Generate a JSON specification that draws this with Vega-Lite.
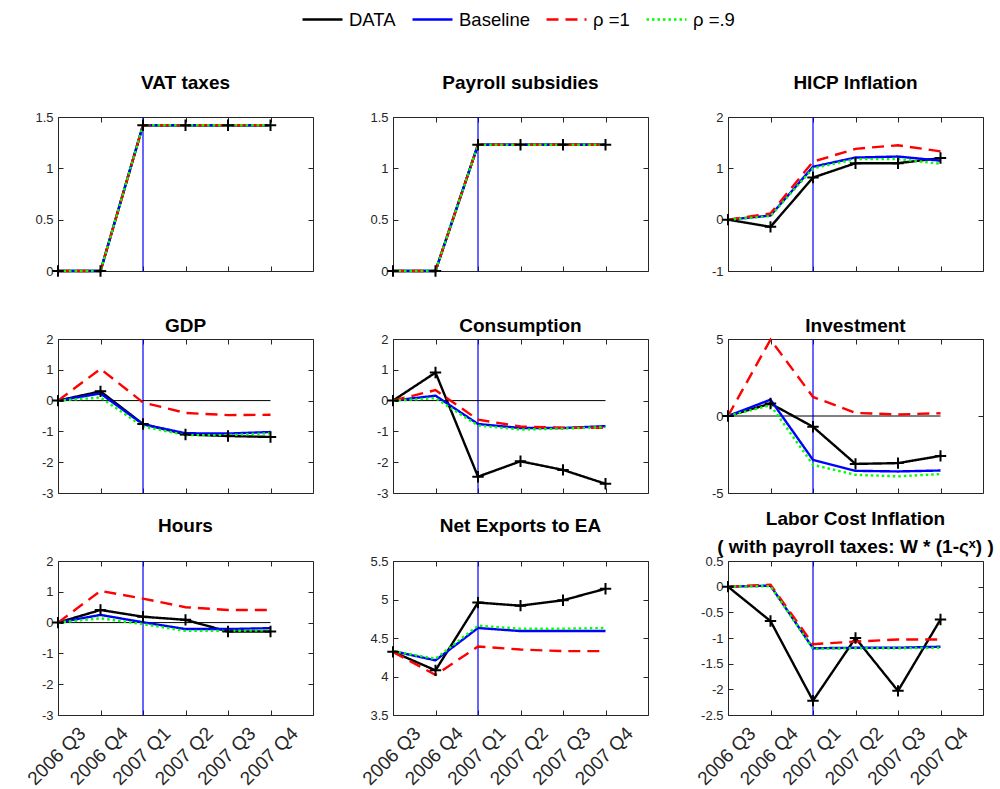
{
"$schema": "https://vega.github.io/schema/vega-lite/v6.json",
"background": "white",
"padding": {"left": 23, "top": -2, "right": 0, "bottom": 0},
"columns": 3,
"spacing": {"row": 68, "column": 80},
"bounds": "flush",
"config": {
  "view": {"stroke": "#262626", "strokeWidth": 1},
  "axis": {"domain": false, "grid": false, "ticks": true, "tickSize": -5, "tickColor": "#262626", "labelColor": "#262626", "labelFont": "Liberation Sans", "labelFontSize": 13, "labelPadding": 10},
  "title": {"font": "Liberation Sans", "fontSize": 19, "fontWeight": "bold", "color": "#000000", "anchor": "middle"}
},
"datasets": {"d": [
{"p":"VAT","s":"DATA","q":1,"v":0},{"p":"VAT","s":"DATA","q":2,"v":0},{"p":"VAT","s":"DATA","q":3,"v":1.42},{"p":"VAT","s":"DATA","q":4,"v":1.42},{"p":"VAT","s":"DATA","q":5,"v":1.42},{"p":"VAT","s":"DATA","q":6,"v":1.42},
{"p":"VAT","s":"Baseline","q":1,"v":0},{"p":"VAT","s":"Baseline","q":2,"v":0},{"p":"VAT","s":"Baseline","q":3,"v":1.42},{"p":"VAT","s":"Baseline","q":4,"v":1.42},{"p":"VAT","s":"Baseline","q":5,"v":1.42},{"p":"VAT","s":"Baseline","q":6,"v":1.42},
{"p":"VAT","s":"ρ =1","q":1,"v":0},{"p":"VAT","s":"ρ =1","q":2,"v":0},{"p":"VAT","s":"ρ =1","q":3,"v":1.42},{"p":"VAT","s":"ρ =1","q":4,"v":1.42},{"p":"VAT","s":"ρ =1","q":5,"v":1.42},{"p":"VAT","s":"ρ =1","q":6,"v":1.42},
{"p":"VAT","s":"ρ =.9","q":1,"v":0},{"p":"VAT","s":"ρ =.9","q":2,"v":0},{"p":"VAT","s":"ρ =.9","q":3,"v":1.42},{"p":"VAT","s":"ρ =.9","q":4,"v":1.42},{"p":"VAT","s":"ρ =.9","q":5,"v":1.42},{"p":"VAT","s":"ρ =.9","q":6,"v":1.42},
{"p":"PAY","s":"DATA","q":1,"v":0},{"p":"PAY","s":"DATA","q":2,"v":0},{"p":"PAY","s":"DATA","q":3,"v":1.23},{"p":"PAY","s":"DATA","q":4,"v":1.23},{"p":"PAY","s":"DATA","q":5,"v":1.23},{"p":"PAY","s":"DATA","q":6,"v":1.23},
{"p":"PAY","s":"Baseline","q":1,"v":0},{"p":"PAY","s":"Baseline","q":2,"v":0},{"p":"PAY","s":"Baseline","q":3,"v":1.23},{"p":"PAY","s":"Baseline","q":4,"v":1.23},{"p":"PAY","s":"Baseline","q":5,"v":1.23},{"p":"PAY","s":"Baseline","q":6,"v":1.23},
{"p":"PAY","s":"ρ =1","q":1,"v":0},{"p":"PAY","s":"ρ =1","q":2,"v":0},{"p":"PAY","s":"ρ =1","q":3,"v":1.23},{"p":"PAY","s":"ρ =1","q":4,"v":1.23},{"p":"PAY","s":"ρ =1","q":5,"v":1.23},{"p":"PAY","s":"ρ =1","q":6,"v":1.23},
{"p":"PAY","s":"ρ =.9","q":1,"v":0},{"p":"PAY","s":"ρ =.9","q":2,"v":0},{"p":"PAY","s":"ρ =.9","q":3,"v":1.23},{"p":"PAY","s":"ρ =.9","q":4,"v":1.23},{"p":"PAY","s":"ρ =.9","q":5,"v":1.23},{"p":"PAY","s":"ρ =.9","q":6,"v":1.23},
{"p":"HICP","s":"DATA","q":1,"v":0},{"p":"HICP","s":"DATA","q":2,"v":-0.14},{"p":"HICP","s":"DATA","q":3,"v":0.82},{"p":"HICP","s":"DATA","q":4,"v":1.1},{"p":"HICP","s":"DATA","q":5,"v":1.1},{"p":"HICP","s":"DATA","q":6,"v":1.2},
{"p":"HICP","s":"Baseline","q":1,"v":0},{"p":"HICP","s":"Baseline","q":2,"v":0.08},{"p":"HICP","s":"Baseline","q":3,"v":1.03},{"p":"HICP","s":"Baseline","q":4,"v":1.21},{"p":"HICP","s":"Baseline","q":5,"v":1.23},{"p":"HICP","s":"Baseline","q":6,"v":1.15},
{"p":"HICP","s":"ρ =1","q":1,"v":0},{"p":"HICP","s":"ρ =1","q":2,"v":0.12},{"p":"HICP","s":"ρ =1","q":3,"v":1.13},{"p":"HICP","s":"ρ =1","q":4,"v":1.38},{"p":"HICP","s":"ρ =1","q":5,"v":1.45},{"p":"HICP","s":"ρ =1","q":6,"v":1.33},
{"p":"HICP","s":"ρ =.9","q":1,"v":0},{"p":"HICP","s":"ρ =.9","q":2,"v":0.07},{"p":"HICP","s":"ρ =.9","q":3,"v":1.0},{"p":"HICP","s":"ρ =.9","q":4,"v":1.18},{"p":"HICP","s":"ρ =.9","q":5,"v":1.18},{"p":"HICP","s":"ρ =.9","q":6,"v":1.09},
{"p":"GDP","s":"DATA","q":1,"v":0},{"p":"GDP","s":"DATA","q":2,"v":0.3},{"p":"GDP","s":"DATA","q":3,"v":-0.76},{"p":"GDP","s":"DATA","q":4,"v":-1.1},{"p":"GDP","s":"DATA","q":5,"v":-1.15},{"p":"GDP","s":"DATA","q":6,"v":-1.18},
{"p":"GDP","s":"Baseline","q":1,"v":0},{"p":"GDP","s":"Baseline","q":2,"v":0.23},{"p":"GDP","s":"Baseline","q":3,"v":-0.77},{"p":"GDP","s":"Baseline","q":4,"v":-1.06},{"p":"GDP","s":"Baseline","q":5,"v":-1.07},{"p":"GDP","s":"Baseline","q":6,"v":-1.02},
{"p":"GDP","s":"ρ =1","q":1,"v":0},{"p":"GDP","s":"ρ =1","q":2,"v":1.03},{"p":"GDP","s":"ρ =1","q":3,"v":-0.06},{"p":"GDP","s":"ρ =1","q":4,"v":-0.4},{"p":"GDP","s":"ρ =1","q":5,"v":-0.47},{"p":"GDP","s":"ρ =1","q":6,"v":-0.46},
{"p":"GDP","s":"ρ =.9","q":1,"v":0},{"p":"GDP","s":"ρ =.9","q":2,"v":0.1},{"p":"GDP","s":"ρ =.9","q":3,"v":-0.84},{"p":"GDP","s":"ρ =.9","q":4,"v":-1.12},{"p":"GDP","s":"ρ =.9","q":5,"v":-1.12},{"p":"GDP","s":"ρ =.9","q":6,"v":-1.06},
{"p":"CONS","s":"DATA","q":1,"v":0},{"p":"CONS","s":"DATA","q":2,"v":0.91},{"p":"CONS","s":"DATA","q":3,"v":-2.47},{"p":"CONS","s":"DATA","q":4,"v":-1.97},{"p":"CONS","s":"DATA","q":5,"v":-2.25},{"p":"CONS","s":"DATA","q":6,"v":-2.7},
{"p":"CONS","s":"Baseline","q":1,"v":0},{"p":"CONS","s":"Baseline","q":2,"v":0.16},{"p":"CONS","s":"Baseline","q":3,"v":-0.76},{"p":"CONS","s":"Baseline","q":4,"v":-0.89},{"p":"CONS","s":"Baseline","q":5,"v":-0.89},{"p":"CONS","s":"Baseline","q":6,"v":-0.83},
{"p":"CONS","s":"ρ =1","q":1,"v":0},{"p":"CONS","s":"ρ =1","q":2,"v":0.34},{"p":"CONS","s":"ρ =1","q":3,"v":-0.62},{"p":"CONS","s":"ρ =1","q":4,"v":-0.84},{"p":"CONS","s":"ρ =1","q":5,"v":-0.88},{"p":"CONS","s":"ρ =1","q":6,"v":-0.88},
{"p":"CONS","s":"ρ =.9","q":1,"v":0},{"p":"CONS","s":"ρ =.9","q":2,"v":0.08},{"p":"CONS","s":"ρ =.9","q":3,"v":-0.81},{"p":"CONS","s":"ρ =.9","q":4,"v":-0.94},{"p":"CONS","s":"ρ =.9","q":5,"v":-0.91},{"p":"CONS","s":"ρ =.9","q":6,"v":-0.86},
{"p":"INV","s":"DATA","q":1,"v":0},{"p":"INV","s":"DATA","q":2,"v":0.81},{"p":"INV","s":"DATA","q":3,"v":-0.7},{"p":"INV","s":"DATA","q":4,"v":-3.11},{"p":"INV","s":"DATA","q":5,"v":-3.06},{"p":"INV","s":"DATA","q":6,"v":-2.59},
{"p":"INV","s":"Baseline","q":1,"v":0},{"p":"INV","s":"Baseline","q":2,"v":1.06},{"p":"INV","s":"Baseline","q":3,"v":-2.85},{"p":"INV","s":"Baseline","q":4,"v":-3.56},{"p":"INV","s":"Baseline","q":5,"v":-3.6},{"p":"INV","s":"Baseline","q":6,"v":-3.54},
{"p":"INV","s":"ρ =1","q":1,"v":0},{"p":"INV","s":"ρ =1","q":2,"v":4.96},{"p":"INV","s":"ρ =1","q":3,"v":1.24},{"p":"INV","s":"ρ =1","q":4,"v":0.2},{"p":"INV","s":"ρ =1","q":5,"v":0.1},{"p":"INV","s":"ρ =1","q":6,"v":0.18},
{"p":"INV","s":"ρ =.9","q":1,"v":0},{"p":"INV","s":"ρ =.9","q":2,"v":0.7},{"p":"INV","s":"ρ =.9","q":3,"v":-3.17},{"p":"INV","s":"ρ =.9","q":4,"v":-3.82},{"p":"INV","s":"ρ =.9","q":5,"v":-3.92},{"p":"INV","s":"ρ =.9","q":6,"v":-3.77},
{"p":"HRS","s":"DATA","q":1,"v":0},{"p":"HRS","s":"DATA","q":2,"v":0.41},{"p":"HRS","s":"DATA","q":3,"v":0.19},{"p":"HRS","s":"DATA","q":4,"v":0.09},{"p":"HRS","s":"DATA","q":5,"v":-0.29},{"p":"HRS","s":"DATA","q":6,"v":-0.29},
{"p":"HRS","s":"Baseline","q":1,"v":0},{"p":"HRS","s":"Baseline","q":2,"v":0.25},{"p":"HRS","s":"Baseline","q":3,"v":0.01},{"p":"HRS","s":"Baseline","q":4,"v":-0.21},{"p":"HRS","s":"Baseline","q":5,"v":-0.21},{"p":"HRS","s":"Baseline","q":6,"v":-0.18},
{"p":"HRS","s":"ρ =1","q":1,"v":0},{"p":"HRS","s":"ρ =1","q":2,"v":1.03},{"p":"HRS","s":"ρ =1","q":3,"v":0.78},{"p":"HRS","s":"ρ =1","q":4,"v":0.5},{"p":"HRS","s":"ρ =1","q":5,"v":0.41},{"p":"HRS","s":"ρ =1","q":6,"v":0.41},
{"p":"HRS","s":"ρ =.9","q":1,"v":0},{"p":"HRS","s":"ρ =.9","q":2,"v":0.14},{"p":"HRS","s":"ρ =.9","q":3,"v":-0.05},{"p":"HRS","s":"ρ =.9","q":4,"v":-0.27},{"p":"HRS","s":"ρ =.9","q":5,"v":-0.27},{"p":"HRS","s":"ρ =.9","q":6,"v":-0.25},
{"p":"NX","s":"DATA","q":1,"v":4.32},{"p":"NX","s":"DATA","q":2,"v":4.08},{"p":"NX","s":"DATA","q":3,"v":4.96},{"p":"NX","s":"DATA","q":4,"v":4.92},{"p":"NX","s":"DATA","q":5,"v":4.99},{"p":"NX","s":"DATA","q":6,"v":5.14},
{"p":"NX","s":"Baseline","q":1,"v":4.33},{"p":"NX","s":"Baseline","q":2,"v":4.21},{"p":"NX","s":"Baseline","q":3,"v":4.63},{"p":"NX","s":"Baseline","q":4,"v":4.59},{"p":"NX","s":"Baseline","q":5,"v":4.59},{"p":"NX","s":"Baseline","q":6,"v":4.59},
{"p":"NX","s":"ρ =1","q":1,"v":4.32},{"p":"NX","s":"ρ =1","q":2,"v":4.02},{"p":"NX","s":"ρ =1","q":3,"v":4.39},{"p":"NX","s":"ρ =1","q":4,"v":4.35},{"p":"NX","s":"ρ =1","q":5,"v":4.33},{"p":"NX","s":"ρ =1","q":6,"v":4.33},
{"p":"NX","s":"ρ =.9","q":1,"v":4.33},{"p":"NX","s":"ρ =.9","q":2,"v":4.23},{"p":"NX","s":"ρ =.9","q":3,"v":4.66},{"p":"NX","s":"ρ =.9","q":4,"v":4.62},{"p":"NX","s":"ρ =.9","q":5,"v":4.62},{"p":"NX","s":"ρ =.9","q":6,"v":4.63},
{"p":"LC","s":"DATA","q":1,"v":0},{"p":"LC","s":"DATA","q":2,"v":-0.67},{"p":"LC","s":"DATA","q":3,"v":-2.22},{"p":"LC","s":"DATA","q":4,"v":-1.0},{"p":"LC","s":"DATA","q":5,"v":-2.03},{"p":"LC","s":"DATA","q":6,"v":-0.64},
{"p":"LC","s":"Baseline","q":1,"v":0},{"p":"LC","s":"Baseline","q":2,"v":0.02},{"p":"LC","s":"Baseline","q":3,"v":-1.2},{"p":"LC","s":"Baseline","q":4,"v":-1.19},{"p":"LC","s":"Baseline","q":5,"v":-1.19},{"p":"LC","s":"Baseline","q":6,"v":-1.17},
{"p":"LC","s":"ρ =1","q":1,"v":0},{"p":"LC","s":"ρ =1","q":2,"v":0.04},{"p":"LC","s":"ρ =1","q":3,"v":-1.12},{"p":"LC","s":"ρ =1","q":4,"v":-1.07},{"p":"LC","s":"ρ =1","q":5,"v":-1.03},{"p":"LC","s":"ρ =1","q":6,"v":-1.03},
{"p":"LC","s":"ρ =.9","q":1,"v":0},{"p":"LC","s":"ρ =.9","q":2,"v":0.01},{"p":"LC","s":"ρ =.9","q":3,"v":-1.21},{"p":"LC","s":"ρ =.9","q":4,"v":-1.2},{"p":"LC","s":"ρ =.9","q":5,"v":-1.2},{"p":"LC","s":"ρ =.9","q":6,"v":-1.19}
]},
"concat": [
{"width": 255, "height": 154, "title": {"text": "VAT taxes", "offset": 18},
 "resolve": {"axis": {"x": "independent", "y": "independent"}},
 "layer": [
  {"data": {"values": [{}]}, "mark": {"type": "rule", "color": "#0000ff", "strokeWidth": 1.2},
   "encoding": {"x": {"datum": 3, "type": "quantitative", "scale": {"domain": [1, 7], "nice": false, "zero": false}, "axis": {"orient": "top", "values": [1,2,3,4,5,6], "labels": false, "title": null}}}},
  {"data": {"name": "d"}, "transform": [{"filter": "datum.p=='VAT'"}], "mark": {"type": "line", "strokeWidth": 2.4},
   "encoding": {
    "x": {"field": "q", "type": "quantitative", "axis": {"values": [1,2,3,4,5,6], "labels": false, "title": null}},
    "y": {"field": "v", "type": "quantitative", "scale": {"domain": [0, 1.5], "nice": false, "zero": false}, "axis": {"values": [0,0.5,1,1.5], "labelExpr": "''+datum.value", "title": null}},
    "color": {"field": "s", "type": "nominal", "scale": {"domain": ["DATA","Baseline","ρ =1","ρ =.9"], "range": ["#000000","#0000ff","#ff0000","#00ff00"]}, "legend": {"orient":"none","legendX":243,"legendY":-119,"direction":"horizontal","columns":4,"gridAlign":"none","title":null,"symbolType":"stroke","symbolSize":1600,"symbolStrokeWidth":2.5,"labelFont":"Liberation Sans","labelFontSize":18.5,"labelColor":"#000000","columnPadding":11,"labelOffset":5}},
    "strokeDash": {"field": "s", "type": "nominal", "scale": {"domain": ["DATA","Baseline","ρ =1","ρ =.9"], "range": [[1,0],[1,0],[12,7],[2.5,3]]}, "legend": {"orient":"none","legendX":243,"legendY":-119,"direction":"horizontal","columns":4,"gridAlign":"none","title":null,"symbolType":"stroke","symbolSize":1600,"symbolStrokeWidth":2.5,"labelFont":"Liberation Sans","labelFontSize":18.5,"labelColor":"#000000","columnPadding":11,"labelOffset":5}}}},
  {"data": {"name": "d"}, "transform": [{"filter": "datum.p=='VAT' && datum.s=='DATA'"}], "mark": {"type": "point", "shape": "M-1,0H1M0,-1V1", "size": 130, "strokeWidth": 2, "color": "#000000", "filled": false, "opacity": 1},
   "encoding": {"x": {"field": "q", "type": "quantitative", "axis": null}, "y": {"field": "v", "type": "quantitative", "axis": {"orient": "right", "values": [0,0.5,1,1.5], "labels": false, "title": null}}}}
 ]},
{"width": 255, "height": 154, "title": {"text": "Payroll subsidies", "offset": 18},
 "resolve": {"axis": {"x": "independent", "y": "independent"}},
 "layer": [
  {"data": {"values": [{}]}, "mark": {"type": "rule", "color": "#0000ff", "strokeWidth": 1.2},
   "encoding": {"x": {"datum": 3, "type": "quantitative", "scale": {"domain": [1, 7], "nice": false, "zero": false}, "axis": {"orient": "top", "values": [1,2,3,4,5,6], "labels": false, "title": null}}}},
  {"data": {"name": "d"}, "transform": [{"filter": "datum.p=='PAY'"}], "mark": {"type": "line", "strokeWidth": 2.4},
   "encoding": {
    "x": {"field": "q", "type": "quantitative", "axis": {"values": [1,2,3,4,5,6], "labels": false, "title": null}},
    "y": {"field": "v", "type": "quantitative", "scale": {"domain": [0, 1.5], "nice": false, "zero": false}, "axis": {"values": [0,0.5,1,1.5], "labelExpr": "''+datum.value", "title": null}},
    "color": {"field": "s", "type": "nominal", "scale": {"domain": ["DATA","Baseline","ρ =1","ρ =.9"], "range": ["#000000","#0000ff","#ff0000","#00ff00"]}, "legend": {"orient":"none","legendX":243,"legendY":-119,"direction":"horizontal","columns":4,"gridAlign":"none","title":null,"symbolType":"stroke","symbolSize":1600,"symbolStrokeWidth":2.5,"labelFont":"Liberation Sans","labelFontSize":18.5,"labelColor":"#000000","columnPadding":11,"labelOffset":5}},
    "strokeDash": {"field": "s", "type": "nominal", "scale": {"domain": ["DATA","Baseline","ρ =1","ρ =.9"], "range": [[1,0],[1,0],[12,7],[2.5,3]]}, "legend": {"orient":"none","legendX":243,"legendY":-119,"direction":"horizontal","columns":4,"gridAlign":"none","title":null,"symbolType":"stroke","symbolSize":1600,"symbolStrokeWidth":2.5,"labelFont":"Liberation Sans","labelFontSize":18.5,"labelColor":"#000000","columnPadding":11,"labelOffset":5}}}},
  {"data": {"name": "d"}, "transform": [{"filter": "datum.p=='PAY' && datum.s=='DATA'"}], "mark": {"type": "point", "shape": "M-1,0H1M0,-1V1", "size": 130, "strokeWidth": 2, "color": "#000000", "filled": false, "opacity": 1},
   "encoding": {"x": {"field": "q", "type": "quantitative", "axis": null}, "y": {"field": "v", "type": "quantitative", "axis": {"orient": "right", "values": [0,0.5,1,1.5], "labels": false, "title": null}}}}
 ]},
{"width": 255, "height": 154, "title": {"text": "HICP Inflation", "offset": 18},
 "resolve": {"axis": {"x": "independent", "y": "independent"}},
 "layer": [
  {"data": {"values": [{}]}, "mark": {"type": "rule", "color": "#0000ff", "strokeWidth": 1.2},
   "encoding": {"x": {"datum": 3, "type": "quantitative", "scale": {"domain": [1, 7], "nice": false, "zero": false}, "axis": {"orient": "top", "values": [1,2,3,4,5,6], "labels": false, "title": null}}}},
  {"data": {"name": "d"}, "transform": [{"filter": "datum.p=='HICP'"}], "mark": {"type": "line", "strokeWidth": 2.4},
   "encoding": {
    "x": {"field": "q", "type": "quantitative", "axis": {"values": [1,2,3,4,5,6], "labels": false, "title": null}},
    "y": {"field": "v", "type": "quantitative", "scale": {"domain": [-1, 2], "nice": false, "zero": false}, "axis": {"values": [-1,0,1,2], "labelExpr": "''+datum.value", "title": null}},
    "color": {"field": "s", "type": "nominal", "scale": {"domain": ["DATA","Baseline","ρ =1","ρ =.9"], "range": ["#000000","#0000ff","#ff0000","#00ff00"]}, "legend": {"orient":"none","legendX":243,"legendY":-119,"direction":"horizontal","columns":4,"gridAlign":"none","title":null,"symbolType":"stroke","symbolSize":1600,"symbolStrokeWidth":2.5,"labelFont":"Liberation Sans","labelFontSize":18.5,"labelColor":"#000000","columnPadding":11,"labelOffset":5}},
    "strokeDash": {"field": "s", "type": "nominal", "scale": {"domain": ["DATA","Baseline","ρ =1","ρ =.9"], "range": [[1,0],[1,0],[12,7],[2.5,3]]}, "legend": {"orient":"none","legendX":243,"legendY":-119,"direction":"horizontal","columns":4,"gridAlign":"none","title":null,"symbolType":"stroke","symbolSize":1600,"symbolStrokeWidth":2.5,"labelFont":"Liberation Sans","labelFontSize":18.5,"labelColor":"#000000","columnPadding":11,"labelOffset":5}}}},
  {"data": {"name": "d"}, "transform": [{"filter": "datum.p=='HICP' && datum.s=='DATA'"}], "mark": {"type": "point", "shape": "M-1,0H1M0,-1V1", "size": 130, "strokeWidth": 2, "color": "#000000", "filled": false, "opacity": 1},
   "encoding": {"x": {"field": "q", "type": "quantitative", "axis": null}, "y": {"field": "v", "type": "quantitative", "axis": {"orient": "right", "values": [-1,0,1,2], "labels": false, "title": null}}}}
 ]},
{"width": 255, "height": 154, "title": {"text": "GDP", "offset": -3},
 "resolve": {"axis": {"x": "independent", "y": "independent"}},
 "layer": [
  {"data": {"values": [{}]}, "mark": {"type": "rule", "color": "#0000ff", "strokeWidth": 1.2},
   "encoding": {"x": {"datum": 3, "type": "quantitative", "scale": {"domain": [1, 7], "nice": false, "zero": false}, "axis": {"orient": "top", "values": [1,2,3,4,5,6], "labels": false, "title": null}}}},
  {"data": {"values": [{}]}, "mark": {"type": "rule", "color": "#000000", "strokeWidth": 1},
   "encoding": {"x": {"datum": 1, "type": "quantitative", "axis": null}, "x2": {"datum": 6}, "y": {"datum": 0, "type": "quantitative", "axis": null}}},
  {"data": {"name": "d"}, "transform": [{"filter": "datum.p=='GDP'"}], "mark": {"type": "line", "strokeWidth": 2.4},
   "encoding": {
    "x": {"field": "q", "type": "quantitative", "axis": {"values": [1,2,3,4,5,6], "labels": false, "title": null}},
    "y": {"field": "v", "type": "quantitative", "scale": {"domain": [-3, 2], "nice": false, "zero": false}, "axis": {"values": [-3,-2,-1,0,1,2], "labelExpr": "''+datum.value", "title": null}},
    "color": {"field": "s", "type": "nominal", "scale": {"domain": ["DATA","Baseline","ρ =1","ρ =.9"], "range": ["#000000","#0000ff","#ff0000","#00ff00"]}, "legend": {"orient":"none","legendX":243,"legendY":-119,"direction":"horizontal","columns":4,"gridAlign":"none","title":null,"symbolType":"stroke","symbolSize":1600,"symbolStrokeWidth":2.5,"labelFont":"Liberation Sans","labelFontSize":18.5,"labelColor":"#000000","columnPadding":11,"labelOffset":5}},
    "strokeDash": {"field": "s", "type": "nominal", "scale": {"domain": ["DATA","Baseline","ρ =1","ρ =.9"], "range": [[1,0],[1,0],[12,7],[2.5,3]]}, "legend": {"orient":"none","legendX":243,"legendY":-119,"direction":"horizontal","columns":4,"gridAlign":"none","title":null,"symbolType":"stroke","symbolSize":1600,"symbolStrokeWidth":2.5,"labelFont":"Liberation Sans","labelFontSize":18.5,"labelColor":"#000000","columnPadding":11,"labelOffset":5}}}},
  {"data": {"name": "d"}, "transform": [{"filter": "datum.p=='GDP' && datum.s=='DATA'"}], "mark": {"type": "point", "shape": "M-1,0H1M0,-1V1", "size": 130, "strokeWidth": 2, "color": "#000000", "filled": false, "opacity": 1},
   "encoding": {"x": {"field": "q", "type": "quantitative", "axis": null}, "y": {"field": "v", "type": "quantitative", "axis": {"orient": "right", "values": [-3,-2,-1,0,1,2], "labels": false, "title": null}}}}
 ]},
{"width": 255, "height": 154, "title": {"text": "Consumption", "offset": -3},
 "resolve": {"axis": {"x": "independent", "y": "independent"}},
 "layer": [
  {"data": {"values": [{}]}, "mark": {"type": "rule", "color": "#0000ff", "strokeWidth": 1.2},
   "encoding": {"x": {"datum": 3, "type": "quantitative", "scale": {"domain": [1, 7], "nice": false, "zero": false}, "axis": {"orient": "top", "values": [1,2,3,4,5,6], "labels": false, "title": null}}}},
  {"data": {"values": [{}]}, "mark": {"type": "rule", "color": "#000000", "strokeWidth": 1},
   "encoding": {"x": {"datum": 1, "type": "quantitative", "axis": null}, "x2": {"datum": 6}, "y": {"datum": 0, "type": "quantitative", "axis": null}}},
  {"data": {"name": "d"}, "transform": [{"filter": "datum.p=='CONS'"}], "mark": {"type": "line", "strokeWidth": 2.4},
   "encoding": {
    "x": {"field": "q", "type": "quantitative", "axis": {"values": [1,2,3,4,5,6], "labels": false, "title": null}},
    "y": {"field": "v", "type": "quantitative", "scale": {"domain": [-3, 2], "nice": false, "zero": false}, "axis": {"values": [-3,-2,-1,0,1,2], "labelExpr": "''+datum.value", "title": null}},
    "color": {"field": "s", "type": "nominal", "scale": {"domain": ["DATA","Baseline","ρ =1","ρ =.9"], "range": ["#000000","#0000ff","#ff0000","#00ff00"]}, "legend": {"orient":"none","legendX":243,"legendY":-119,"direction":"horizontal","columns":4,"gridAlign":"none","title":null,"symbolType":"stroke","symbolSize":1600,"symbolStrokeWidth":2.5,"labelFont":"Liberation Sans","labelFontSize":18.5,"labelColor":"#000000","columnPadding":11,"labelOffset":5}},
    "strokeDash": {"field": "s", "type": "nominal", "scale": {"domain": ["DATA","Baseline","ρ =1","ρ =.9"], "range": [[1,0],[1,0],[12,7],[2.5,3]]}, "legend": {"orient":"none","legendX":243,"legendY":-119,"direction":"horizontal","columns":4,"gridAlign":"none","title":null,"symbolType":"stroke","symbolSize":1600,"symbolStrokeWidth":2.5,"labelFont":"Liberation Sans","labelFontSize":18.5,"labelColor":"#000000","columnPadding":11,"labelOffset":5}}}},
  {"data": {"name": "d"}, "transform": [{"filter": "datum.p=='CONS' && datum.s=='DATA'"}], "mark": {"type": "point", "shape": "M-1,0H1M0,-1V1", "size": 130, "strokeWidth": 2, "color": "#000000", "filled": false, "opacity": 1},
   "encoding": {"x": {"field": "q", "type": "quantitative", "axis": null}, "y": {"field": "v", "type": "quantitative", "axis": {"orient": "right", "values": [-3,-2,-1,0,1,2], "labels": false, "title": null}}}}
 ]},
{"width": 255, "height": 154, "title": {"text": "Investment", "offset": -3},
 "resolve": {"axis": {"x": "independent", "y": "independent"}},
 "layer": [
  {"data": {"values": [{}]}, "mark": {"type": "rule", "color": "#0000ff", "strokeWidth": 1.2},
   "encoding": {"x": {"datum": 3, "type": "quantitative", "scale": {"domain": [1, 7], "nice": false, "zero": false}, "axis": {"orient": "top", "values": [1,2,3,4,5,6], "labels": false, "title": null}}}},
  {"data": {"values": [{}]}, "mark": {"type": "rule", "color": "#000000", "strokeWidth": 1},
   "encoding": {"x": {"datum": 1, "type": "quantitative", "axis": null}, "x2": {"datum": 6}, "y": {"datum": 0, "type": "quantitative", "axis": null}}},
  {"data": {"name": "d"}, "transform": [{"filter": "datum.p=='INV'"}], "mark": {"type": "line", "strokeWidth": 2.4},
   "encoding": {
    "x": {"field": "q", "type": "quantitative", "axis": {"values": [1,2,3,4,5,6], "labels": false, "title": null}},
    "y": {"field": "v", "type": "quantitative", "scale": {"domain": [-5, 5], "nice": false, "zero": false}, "axis": {"values": [-5,0,5], "labelExpr": "''+datum.value", "title": null}},
    "color": {"field": "s", "type": "nominal", "scale": {"domain": ["DATA","Baseline","ρ =1","ρ =.9"], "range": ["#000000","#0000ff","#ff0000","#00ff00"]}, "legend": {"orient":"none","legendX":243,"legendY":-119,"direction":"horizontal","columns":4,"gridAlign":"none","title":null,"symbolType":"stroke","symbolSize":1600,"symbolStrokeWidth":2.5,"labelFont":"Liberation Sans","labelFontSize":18.5,"labelColor":"#000000","columnPadding":11,"labelOffset":5}},
    "strokeDash": {"field": "s", "type": "nominal", "scale": {"domain": ["DATA","Baseline","ρ =1","ρ =.9"], "range": [[1,0],[1,0],[12,7],[2.5,3]]}, "legend": {"orient":"none","legendX":243,"legendY":-119,"direction":"horizontal","columns":4,"gridAlign":"none","title":null,"symbolType":"stroke","symbolSize":1600,"symbolStrokeWidth":2.5,"labelFont":"Liberation Sans","labelFontSize":18.5,"labelColor":"#000000","columnPadding":11,"labelOffset":5}}}},
  {"data": {"name": "d"}, "transform": [{"filter": "datum.p=='INV' && datum.s=='DATA'"}], "mark": {"type": "point", "shape": "M-1,0H1M0,-1V1", "size": 130, "strokeWidth": 2, "color": "#000000", "filled": false, "opacity": 1},
   "encoding": {"x": {"field": "q", "type": "quantitative", "axis": null}, "y": {"field": "v", "type": "quantitative", "axis": {"orient": "right", "values": [-5,0,5], "labels": false, "title": null}}}}
 ]},
{"width": 255, "height": 154, "title": {"text": "Hours", "offset": 19},
 "resolve": {"axis": {"x": "independent", "y": "independent"}},
 "layer": [
  {"data": {"values": [{}]}, "mark": {"type": "rule", "color": "#0000ff", "strokeWidth": 1.2},
   "encoding": {"x": {"datum": 3, "type": "quantitative", "scale": {"domain": [1, 7], "nice": false, "zero": false}, "axis": {"orient": "top", "values": [1,2,3,4,5,6], "labels": false, "title": null}}}},
  {"data": {"values": [{}]}, "mark": {"type": "rule", "color": "#000000", "strokeWidth": 1},
   "encoding": {"x": {"datum": 1, "type": "quantitative", "axis": null}, "x2": {"datum": 6}, "y": {"datum": 0, "type": "quantitative", "axis": null}}},
  {"data": {"name": "d"}, "transform": [{"filter": "datum.p=='HRS'"}], "mark": {"type": "line", "strokeWidth": 2.4},
   "encoding": {
    "x": {"field": "q", "type": "quantitative", "axis": {"values": [1,2,3,4,5,6], "labelExpr": "['2006 Q3','2006 Q4','2007 Q1','2007 Q2','2007 Q3','2007 Q4'][datum.value-1]", "labelAngle": -45, "labelAlign": "right", "labelBaseline": "middle", "labelFontSize": 19, "labelPadding": 20, "labelOffset": 24, "labelOverlap": false, "labelBound": false, "title": null}},
    "y": {"field": "v", "type": "quantitative", "scale": {"domain": [-3, 2], "nice": false, "zero": false}, "axis": {"values": [-3,-2,-1,0,1,2], "labelExpr": "''+datum.value", "title": null}},
    "color": {"field": "s", "type": "nominal", "scale": {"domain": ["DATA","Baseline","ρ =1","ρ =.9"], "range": ["#000000","#0000ff","#ff0000","#00ff00"]}, "legend": {"orient":"none","legendX":243,"legendY":-119,"direction":"horizontal","columns":4,"gridAlign":"none","title":null,"symbolType":"stroke","symbolSize":1600,"symbolStrokeWidth":2.5,"labelFont":"Liberation Sans","labelFontSize":18.5,"labelColor":"#000000","columnPadding":11,"labelOffset":5}},
    "strokeDash": {"field": "s", "type": "nominal", "scale": {"domain": ["DATA","Baseline","ρ =1","ρ =.9"], "range": [[1,0],[1,0],[12,7],[2.5,3]]}, "legend": {"orient":"none","legendX":243,"legendY":-119,"direction":"horizontal","columns":4,"gridAlign":"none","title":null,"symbolType":"stroke","symbolSize":1600,"symbolStrokeWidth":2.5,"labelFont":"Liberation Sans","labelFontSize":18.5,"labelColor":"#000000","columnPadding":11,"labelOffset":5}}}},
  {"data": {"name": "d"}, "transform": [{"filter": "datum.p=='HRS' && datum.s=='DATA'"}], "mark": {"type": "point", "shape": "M-1,0H1M0,-1V1", "size": 130, "strokeWidth": 2, "color": "#000000", "filled": false, "opacity": 1},
   "encoding": {"x": {"field": "q", "type": "quantitative", "axis": null}, "y": {"field": "v", "type": "quantitative", "axis": {"orient": "right", "values": [-3,-2,-1,0,1,2], "labels": false, "title": null}}}}
 ]},
{"width": 255, "height": 154, "title": {"text": "Net Exports to EA", "offset": 19},
 "resolve": {"axis": {"x": "independent", "y": "independent"}},
 "layer": [
  {"data": {"values": [{}]}, "mark": {"type": "rule", "color": "#0000ff", "strokeWidth": 1.2},
   "encoding": {"x": {"datum": 3, "type": "quantitative", "scale": {"domain": [1, 7], "nice": false, "zero": false}, "axis": {"orient": "top", "values": [1,2,3,4,5,6], "labels": false, "title": null}}}},
  {"data": {"name": "d"}, "transform": [{"filter": "datum.p=='NX'"}], "mark": {"type": "line", "strokeWidth": 2.4},
   "encoding": {
    "x": {"field": "q", "type": "quantitative", "axis": {"values": [1,2,3,4,5,6], "labelExpr": "['2006 Q3','2006 Q4','2007 Q1','2007 Q2','2007 Q3','2007 Q4'][datum.value-1]", "labelAngle": -45, "labelAlign": "right", "labelBaseline": "middle", "labelFontSize": 19, "labelPadding": 20, "labelOffset": 24, "labelOverlap": false, "labelBound": false, "title": null}},
    "y": {"field": "v", "type": "quantitative", "scale": {"domain": [3.5, 5.5], "nice": false, "zero": false}, "axis": {"values": [3.5,4,4.5,5,5.5], "labelExpr": "''+datum.value", "title": null}},
    "color": {"field": "s", "type": "nominal", "scale": {"domain": ["DATA","Baseline","ρ =1","ρ =.9"], "range": ["#000000","#0000ff","#ff0000","#00ff00"]}, "legend": {"orient":"none","legendX":243,"legendY":-119,"direction":"horizontal","columns":4,"gridAlign":"none","title":null,"symbolType":"stroke","symbolSize":1600,"symbolStrokeWidth":2.5,"labelFont":"Liberation Sans","labelFontSize":18.5,"labelColor":"#000000","columnPadding":11,"labelOffset":5}},
    "strokeDash": {"field": "s", "type": "nominal", "scale": {"domain": ["DATA","Baseline","ρ =1","ρ =.9"], "range": [[1,0],[1,0],[12,7],[2.5,3]]}, "legend": {"orient":"none","legendX":243,"legendY":-119,"direction":"horizontal","columns":4,"gridAlign":"none","title":null,"symbolType":"stroke","symbolSize":1600,"symbolStrokeWidth":2.5,"labelFont":"Liberation Sans","labelFontSize":18.5,"labelColor":"#000000","columnPadding":11,"labelOffset":5}}}},
  {"data": {"name": "d"}, "transform": [{"filter": "datum.p=='NX' && datum.s=='DATA'"}], "mark": {"type": "point", "shape": "M-1,0H1M0,-1V1", "size": 130, "strokeWidth": 2, "color": "#000000", "filled": false, "opacity": 1},
   "encoding": {"x": {"field": "q", "type": "quantitative", "axis": null}, "y": {"field": "v", "type": "quantitative", "axis": {"orient": "right", "values": [3.5,4,4.5,5,5.5], "labels": false, "title": null}}}}
 ]},
{"width": 255, "height": 154, "title": {"text": ["Labor Cost Inflation", "( with payroll taxes: W * (1-ςˣ) )"], "offset": -2, "lineHeight": 28},
 "resolve": {"axis": {"x": "independent", "y": "independent"}},
 "layer": [
  {"data": {"values": [{}]}, "mark": {"type": "rule", "color": "#0000ff", "strokeWidth": 1.2},
   "encoding": {"x": {"datum": 3, "type": "quantitative", "scale": {"domain": [1, 7], "nice": false, "zero": false}, "axis": {"orient": "top", "values": [1,2,3,4,5,6], "labels": false, "title": null}}}},
  {"data": {"name": "d"}, "transform": [{"filter": "datum.p=='LC'"}], "mark": {"type": "line", "strokeWidth": 2.4},
   "encoding": {
    "x": {"field": "q", "type": "quantitative", "axis": {"values": [1,2,3,4,5,6], "labelExpr": "['2006 Q3','2006 Q4','2007 Q1','2007 Q2','2007 Q3','2007 Q4'][datum.value-1]", "labelAngle": -45, "labelAlign": "right", "labelBaseline": "middle", "labelFontSize": 19, "labelPadding": 20, "labelOffset": 24, "labelOverlap": false, "labelBound": false, "title": null}},
    "y": {"field": "v", "type": "quantitative", "scale": {"domain": [-2.5, 0.5], "nice": false, "zero": false}, "axis": {"values": [-2.5,-2,-1.5,-1,-0.5,0,0.5], "labelExpr": "''+datum.value", "title": null}},
    "color": {"field": "s", "type": "nominal", "scale": {"domain": ["DATA","Baseline","ρ =1","ρ =.9"], "range": ["#000000","#0000ff","#ff0000","#00ff00"]}, "legend": {"orient":"none","legendX":243,"legendY":-119,"direction":"horizontal","columns":4,"gridAlign":"none","title":null,"symbolType":"stroke","symbolSize":1600,"symbolStrokeWidth":2.5,"labelFont":"Liberation Sans","labelFontSize":18.5,"labelColor":"#000000","columnPadding":11,"labelOffset":5}},
    "strokeDash": {"field": "s", "type": "nominal", "scale": {"domain": ["DATA","Baseline","ρ =1","ρ =.9"], "range": [[1,0],[1,0],[12,7],[2.5,3]]}, "legend": {"orient":"none","legendX":243,"legendY":-119,"direction":"horizontal","columns":4,"gridAlign":"none","title":null,"symbolType":"stroke","symbolSize":1600,"symbolStrokeWidth":2.5,"labelFont":"Liberation Sans","labelFontSize":18.5,"labelColor":"#000000","columnPadding":11,"labelOffset":5}}}},
  {"data": {"name": "d"}, "transform": [{"filter": "datum.p=='LC' && datum.s=='DATA'"}], "mark": {"type": "point", "shape": "M-1,0H1M0,-1V1", "size": 130, "strokeWidth": 2, "color": "#000000", "filled": false, "opacity": 1},
   "encoding": {"x": {"field": "q", "type": "quantitative", "axis": null}, "y": {"field": "v", "type": "quantitative", "axis": {"orient": "right", "values": [-2.5,-2,-1.5,-1,-0.5,0,0.5], "labels": false, "title": null}}}}
 ]}
]
}
